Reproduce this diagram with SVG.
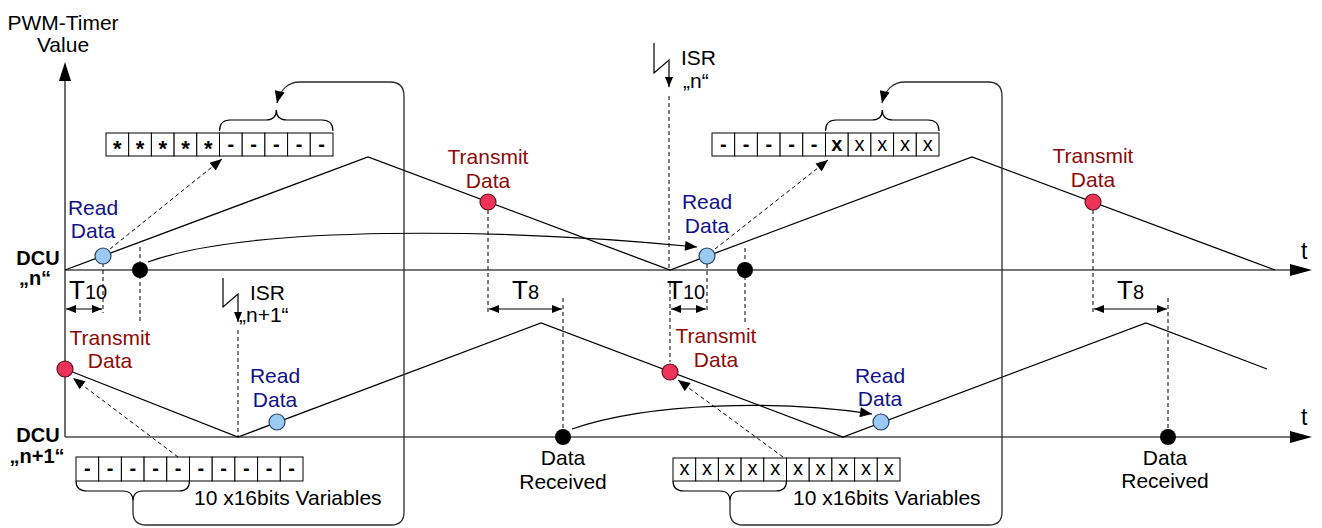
<svg xmlns="http://www.w3.org/2000/svg" width="1322" height="528" viewBox="0 0 1322 528">
  <style>
    text { font-family: "Liberation Sans", Arial, sans-serif; fill: #000; }
    .lbl { font-size: 21px; text-anchor: middle; }
    .read { fill: #11118a; }
    .tx { fill: #8e0a0a; }
    .dcu { font-size: 20px; font-weight: bold; text-anchor: middle; }
    .cellt { font-size: 20px; text-anchor: middle; }
    .ast { font-size: 22px; font-weight: bold; text-anchor: middle; }
    .b { font-weight: bold; }
    .axis { stroke: #4a4a4a; stroke-width: 1.6; fill: none; }
    .saw { stroke: #000; stroke-width: 1.3; fill: none; }
    .dash { stroke: #000; stroke-width: 1; stroke-dasharray: 4 3; fill: none; }
    .conn { stroke: #000; stroke-width: 1.2; fill: none; }
    .loop { stroke: #2a2a2a; stroke-width: 1.3; fill: none; }
    .cell { fill: #fff; stroke: #000; stroke-width: 1; }
    .blue { fill: #99c9f5; stroke: #26405e; stroke-width: 1.2; }
    .red { fill: #ee3358; stroke: #5a1020; stroke-width: 1.2; }
    .blk { fill: #000; }
  </style>
  <defs>
    <marker id="ah" viewBox="0 0 12 10" refX="12" refY="5" markerWidth="13" markerHeight="10" markerUnits="userSpaceOnUse" orient="auto-start-reverse">
      <path d="M0,0 L12,5 L0,10 Z" fill="#000"/>
    </marker>
    <marker id="ahs" viewBox="0 0 10 8" refX="10" refY="4" markerWidth="10" markerHeight="8" markerUnits="userSpaceOnUse" orient="auto-start-reverse">
      <path d="M0,0 L10,4 L0,8 Z" fill="#000"/>
    </marker>
  </defs>

  <rect width="1322" height="528" fill="#fff"/>

  <!-- axes -->
  <g id="axes">
    <path class="axis" d="M65,437 L65,78"/>
    <polygon points="59,81 65,62 71,81" fill="#000"/>
    <path class="axis" d="M65,270 L1292,270"/>
    <polygon points="1290,264 1312,270 1290,276" fill="#000"/>
    <path class="axis" d="M65,437 L1292,437"/>
    <polygon points="1290,431 1312,437 1290,443" fill="#000"/>
    <text x="63" y="30" class="lbl">PWM-Timer</text>
    <text x="63" y="52" class="lbl">Value</text>
    <text x="1301" y="259" font-size="23">t</text>
    <text x="1301" y="425" font-size="23">t</text>
    <text x="38" y="265" class="dcu">DCU</text>
    <text x="35" y="285" class="dcu">„n“</text>
    <text x="38" y="442" class="dcu">DCU</text>
    <text x="37" y="463" class="dcu">„n+1“</text>
  </g>

  <!-- timer ramps -->
  <g id="ramps">
    <polyline class="saw" points="65,270 368,157 670,270 972,157 1275,270"/>
    <polyline class="saw" points="65,369 238,437 541,323 843,437 1146,323 1267,369"/>
  </g>

  <!-- connectors -->
  <g id="connectors">
    <!-- vertical guide lines -->
    <path class="dash" d="M103,263 V313"/>
    <path class="dash" d="M140,247 V322"/>
    <path class="dash" d="M238,330 V437"/>
    <path class="dash" d="M488,210 V313"/>
    <path class="dash" d="M563,298 V429"/>
    <path class="dash" d="M669,96 V270"/>
    <path class="dash" d="M670,283 V362"/>
    <path class="dash" d="M707,264 V313"/>
    <path class="dash" d="M745,248 V322"/>
    <path class="dash" d="M1093,210 V313"/>
    <path class="dash" d="M1168,298 V429"/>

    <!-- buffer copy arrows -->
    <path class="dash" d="M110,249 L222,159" marker-end="url(#ah)"/>
    <path class="dash" d="M715,249 L828,160" marker-end="url(#ah)"/>
    <path class="dash" d="M178,457 L73,378" marker-end="url(#ah)"/>
    <path class="dash" d="M783,457 L678,380" marker-end="url(#ah)"/>

    <!-- data transfer curves -->
    <path class="conn" d="M148,262 C250,225 500,228 697,247" marker-end="url(#ah)"/>
    <path class="conn" d="M572,429 C650,402 780,400 872,414" marker-end="url(#ah)"/>

    <!-- timing spans -->
    <path class="conn" d="M66,309 H102" marker-start="url(#ahs)" marker-end="url(#ahs)"/>
    <path class="conn" d="M671,309 H706" marker-start="url(#ahs)" marker-end="url(#ahs)"/>
    <path class="conn" d="M489,309 H562" marker-start="url(#ahs)" marker-end="url(#ahs)"/>
    <path class="conn" d="M1094,309 H1167" marker-start="url(#ahs)" marker-end="url(#ahs)"/>

    <!-- buffer swap loops -->
    <path class="loop" d="M133,501 L133,512 Q133,525 146,525 L391,525 Q404,525 404,512 L404,96 Q404,82 390,82 L300,82 C288,82 280,90 277,103" marker-end="url(#ah)"/>
    <path class="loop" d="M730,501 L730,512 Q730,525 743,525 L989,525 Q1002,525 1002,512 L1002,96 Q1002,82 988,82 L905,82 C893,82 885,90 882,103" marker-end="url(#ah)"/>

    <!-- interrupt triggers -->
    <polyline class="conn" points="654,43 654,73 669,60 669,87" marker-end="url(#ahs)"/>
    <polyline class="conn" points="223,278 223,307 238,294 238,322" marker-end="url(#ahs)"/>
  </g>

  <!-- timing labels -->
  <g id="timing-labels">
    <text x="69" y="299"><tspan font-size="26">T</tspan><tspan font-size="20">10</tspan></text>
    <text x="667" y="299"><tspan font-size="26">T</tspan><tspan font-size="20">10</tspan></text>
    <text x="512" y="299"><tspan font-size="26">T</tspan><tspan font-size="20">8</tspan></text>
    <text x="1117" y="299"><tspan font-size="26">T</tspan><tspan font-size="20">8</tspan></text>
  </g>

  <g id="isr-n">
    <text x="681" y="65" font-size="21">ISR</text>
    <text x="683" y="88" font-size="21">„n“</text>
  </g>
  <g id="isr-n1">
    <text x="250" y="300" font-size="21">ISR</text>
    <text x="239" y="322" font-size="21">„n+1“</text>
  </g>

  <!-- event points -->
  <g id="read-n-1">
    <circle class="blue" cx="103" cy="256" r="8"/>
    <text class="lbl read" x="93" y="215">Read</text>
    <text class="lbl read" x="93" y="238">Data</text>
  </g>
  <g id="recv-n-1"><circle class="blk" cx="140" cy="270" r="8"/></g>
  <g id="transmit-n-1">
    <circle class="red" cx="488" cy="202" r="8"/>
    <text class="lbl tx" x="488" y="164">Transmit</text>
    <text class="lbl tx" x="488" y="188">Data</text>
  </g>
  <g id="read-n-2">
    <circle class="blue" cx="707" cy="256" r="8"/>
    <text class="lbl read" x="707" y="209">Read</text>
    <text class="lbl read" x="707" y="233">Data</text>
  </g>
  <g id="recv-n-2"><circle class="blk" cx="745" cy="270" r="8"/></g>
  <g id="transmit-n-2">
    <circle class="red" cx="1093" cy="202" r="8"/>
    <text class="lbl tx" x="1093" y="163">Transmit</text>
    <text class="lbl tx" x="1093" y="187">Data</text>
  </g>

  <g id="transmit-n1-1">
    <circle class="red" cx="65" cy="369" r="8"/>
    <text class="lbl tx" x="110" y="345">Transmit</text>
    <text class="lbl tx" x="110" y="368">Data</text>
  </g>
  <g id="read-n1-1">
    <circle class="blue" cx="277" cy="422" r="8"/>
    <text class="lbl read" x="275" y="383">Read</text>
    <text class="lbl read" x="275" y="407">Data</text>
  </g>
  <g id="recv-n1-1">
    <circle class="blk" cx="563" cy="437" r="8"/>
    <text class="lbl" x="563" y="465">Data</text>
    <text class="lbl" x="563" y="489">Received</text>
  </g>
  <g id="transmit-n1-2">
    <circle class="red" cx="670" cy="372" r="8"/>
    <text class="lbl tx" x="716" y="343">Transmit</text>
    <text class="lbl tx" x="716" y="367">Data</text>
  </g>
  <g id="read-n1-2">
    <circle class="blue" cx="881" cy="422" r="8"/>
    <text class="lbl read" x="880" y="383">Read</text>
    <text class="lbl read" x="880" y="406">Data</text>
  </g>
  <g id="recv-n1-2">
    <circle class="blk" cx="1168" cy="437" r="8"/>
    <text class="lbl" x="1165" y="465">Data</text>
    <text class="lbl" x="1165" y="488">Received</text>
  </g>

  <!-- variable buffers -->
  <g id="buffer-n-1">
    <rect class="cell" x="106" y="133" width="22.7" height="23"/>
    <rect class="cell" x="128.7" y="133" width="22.7" height="23"/>
    <rect class="cell" x="151.4" y="133" width="22.7" height="23"/>
    <rect class="cell" x="174.1" y="133" width="22.7" height="23"/>
    <rect class="cell" x="196.8" y="133" width="22.7" height="23"/>
    <rect class="cell" x="219.5" y="133" width="22.7" height="23"/>
    <rect class="cell" x="242.2" y="133" width="22.7" height="23"/>
    <rect class="cell" x="264.9" y="133" width="22.7" height="23"/>
    <rect class="cell" x="287.6" y="133" width="22.7" height="23"/>
    <rect class="cell" x="310.3" y="133" width="22.7" height="23"/>
    <text class="ast" x="117.4" y="156">*</text>
    <text class="ast" x="140.1" y="156">*</text>
    <text class="ast" x="162.8" y="156">*</text>
    <text class="ast" x="185.5" y="156">*</text>
    <text class="ast" x="208.2" y="156">*</text>
    <text class="cellt b" x="230.9" y="151">-</text>
    <text class="cellt b" x="253.6" y="151">-</text>
    <text class="cellt b" x="276.3" y="151">-</text>
    <text class="cellt b" x="299" y="151">-</text>
    <text class="cellt b" x="321.7" y="151">-</text>
    <path class="conn" d="M219.5,131 Q219.5,120 230,120 L266,120 Q276.3,120 276.3,110 Q276.3,120 287,120 L322,120 Q333,120 333,131"/>
  </g>

  <g id="buffer-n-2">
    <rect class="cell" x="712" y="133" width="22.7" height="23"/>
    <rect class="cell" x="734.7" y="133" width="22.7" height="23"/>
    <rect class="cell" x="757.4" y="133" width="22.7" height="23"/>
    <rect class="cell" x="780.1" y="133" width="22.7" height="23"/>
    <rect class="cell" x="802.8" y="133" width="22.7" height="23"/>
    <rect class="cell" x="825.5" y="133" width="22.7" height="23"/>
    <rect class="cell" x="848.2" y="133" width="22.7" height="23"/>
    <rect class="cell" x="870.9" y="133" width="22.7" height="23"/>
    <rect class="cell" x="893.6" y="133" width="22.7" height="23"/>
    <rect class="cell" x="916.3" y="133" width="22.7" height="23"/>
    <text class="cellt b" x="723.4" y="151">-</text>
    <text class="cellt b" x="746.1" y="151">-</text>
    <text class="cellt b" x="768.8" y="151">-</text>
    <text class="cellt b" x="791.5" y="151">-</text>
    <text class="cellt b" x="814.2" y="151">-</text>
    <text class="cellt b" x="836.9" y="151">x</text>
    <text class="cellt" x="859.6" y="151">x</text>
    <text class="cellt" x="882.3" y="151">x</text>
    <text class="cellt" x="905" y="151">x</text>
    <text class="cellt" x="927.7" y="151">x</text>
    <path class="conn" d="M825.5,131 Q825.5,120 836,120 L872,120 Q882.3,120 882.3,110 Q882.3,120 893,120 L928,120 Q939,120 939,131"/>
  </g>

  <g id="buffer-n1-1">
    <rect class="cell" x="76" y="457" width="22.7" height="24"/>
    <rect class="cell" x="98.7" y="457" width="22.7" height="24"/>
    <rect class="cell" x="121.4" y="457" width="22.7" height="24"/>
    <rect class="cell" x="144.1" y="457" width="22.7" height="24"/>
    <rect class="cell" x="166.8" y="457" width="22.7" height="24"/>
    <rect class="cell" x="189.5" y="457" width="22.7" height="24"/>
    <rect class="cell" x="212.2" y="457" width="22.7" height="24"/>
    <rect class="cell" x="234.9" y="457" width="22.7" height="24"/>
    <rect class="cell" x="257.6" y="457" width="22.7" height="24"/>
    <rect class="cell" x="280.3" y="457" width="22.7" height="24"/>
    <text class="cellt b" x="87.4" y="475">-</text>
    <text class="cellt b" x="110.1" y="475">-</text>
    <text class="cellt b" x="132.8" y="475">-</text>
    <text class="cellt b" x="155.5" y="475">-</text>
    <text class="cellt b" x="178.2" y="475">-</text>
    <text class="cellt b" x="200.9" y="475">-</text>
    <text class="cellt b" x="223.6" y="475">-</text>
    <text class="cellt b" x="246.3" y="475">-</text>
    <text class="cellt b" x="269" y="475">-</text>
    <text class="cellt b" x="291.7" y="475">-</text>
    <path class="conn" d="M76,481 Q76,491 87,491 L123,491 Q133,491 133,501 Q133,491 143,491 L179,491 Q189.5,491 189.5,481"/>
    <text x="194" y="505" font-size="21">10 x16bits Variables</text>
  </g>

  <g id="buffer-n1-2">
    <rect class="cell" x="673" y="458" width="22.7" height="23"/>
    <rect class="cell" x="695.7" y="458" width="22.7" height="23"/>
    <rect class="cell" x="718.4" y="458" width="22.7" height="23"/>
    <rect class="cell" x="741.1" y="458" width="22.7" height="23"/>
    <rect class="cell" x="763.8" y="458" width="22.7" height="23"/>
    <rect class="cell" x="786.5" y="458" width="22.7" height="23"/>
    <rect class="cell" x="809.2" y="458" width="22.7" height="23"/>
    <rect class="cell" x="831.9" y="458" width="22.7" height="23"/>
    <rect class="cell" x="854.6" y="458" width="22.7" height="23"/>
    <rect class="cell" x="877.3" y="458" width="22.7" height="23"/>
    <text class="cellt" x="684.4" y="475">x</text>
    <text class="cellt" x="707.1" y="475">x</text>
    <text class="cellt" x="729.8" y="475">x</text>
    <text class="cellt" x="752.5" y="475">x</text>
    <text class="cellt" x="775.2" y="475">x</text>
    <text class="cellt" x="797.9" y="475">x</text>
    <text class="cellt" x="820.6" y="475">x</text>
    <text class="cellt" x="843.3" y="475">x</text>
    <text class="cellt" x="866" y="475">x</text>
    <text class="cellt" x="888.7" y="475">x</text>
    <path class="conn" d="M673,481 Q673,491 684,491 L720,491 Q730,491 730,501 Q730,491 740,491 L776,491 Q786.5,491 786.5,481"/>
    <text x="793" y="505" font-size="21">10 x16bits Variables</text>
  </g>
</svg>
